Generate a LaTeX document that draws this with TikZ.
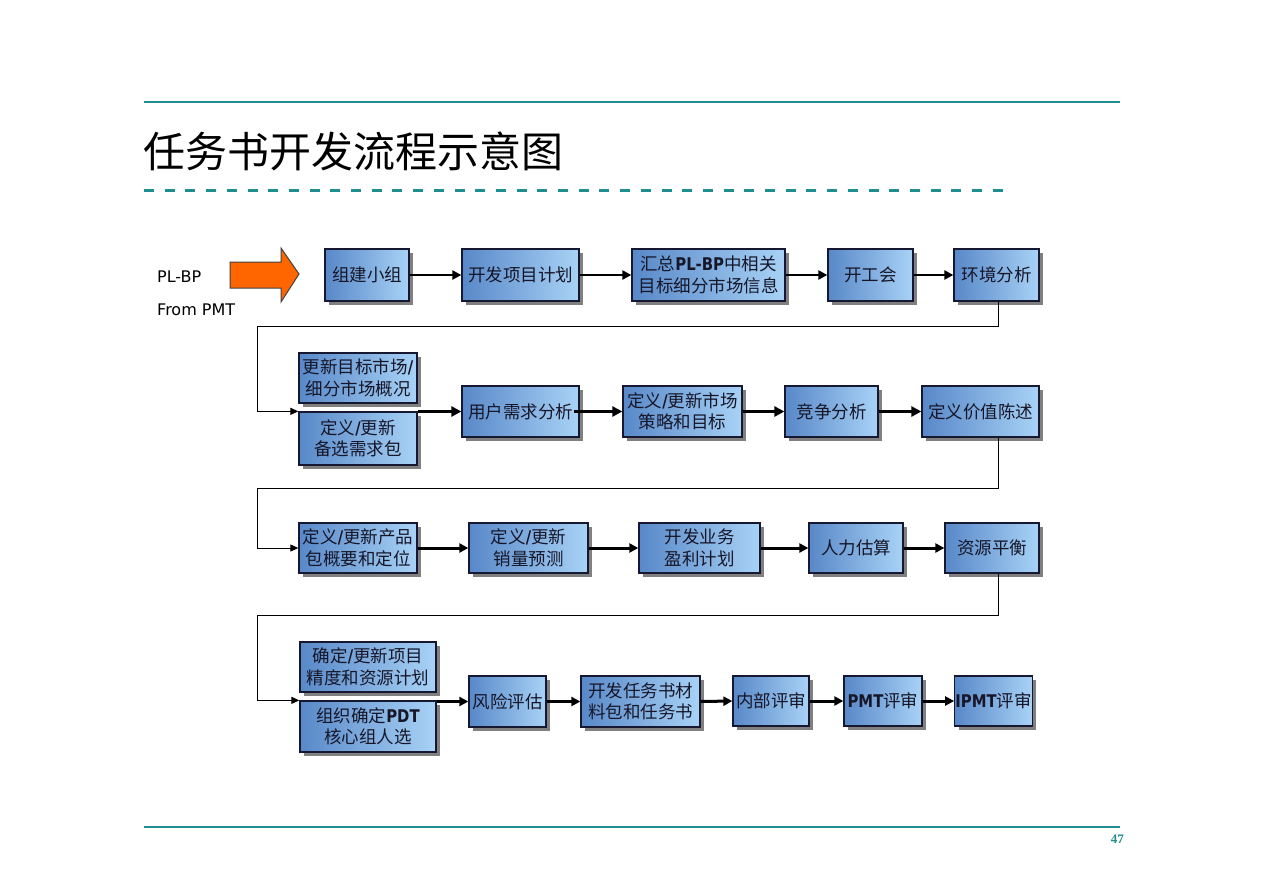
\documentclass[tikz,border=0pt]{standalone}
\usepackage{fontspec}
\setmainfont{Noto Sans CJK SC}
\newfontfamily\lat{DejaVu Sans}
\newfontfamily\latc[FakeStretch=0.85]{DejaVu Sans}
\newfontfamily\numfont{Liberation Serif}
\usetikzlibrary{arrows.meta,shadows}
\definecolor{teal1}{RGB}{32,142,142}
\definecolor{boxL}{RGB}{88,136,200}
\definecolor{boxR}{RGB}{168,210,246}
\definecolor{boxline}{RGB}{22,24,50}
\definecolor{boxtext}{RGB}{22,22,40}
\definecolor{orng}{RGB}{255,102,0}
\tikzset{
  box/.style={draw=boxline, line width=1.3pt, left color=boxL, right color=boxR,
    align=center, text=boxtext, inner sep=0.5pt,
    font=\fontsize{17.5}{21.5}\selectfont,
    drop shadow={shadow xshift=4pt, shadow yshift=-4pt, fill=black!50, opacity=1}},
  arrA/.style={line width=2.5pt, -{Triangle[length=9pt,width=9pt]}},
  arrB/.style={line width=3.6pt, -{Triangle[length=10pt,width=10pt]}},
  arrC/.style={line width=3pt, -{Triangle[length=9pt,width=9pt]}},
  conn/.style={line width=1pt, -{Triangle[length=8pt,width=7pt]}},
  lbl/.style={font=\lat\fontsize{16}{19}\selectfont, anchor=west, inner sep=0pt}
}
\newcommand\bx[6]{\node[box,minimum width={#4pt-#2pt},minimum height={#5pt-#3pt}] (#1) at ({(#2+#4)/2},{(#3+#5)/2}) {#6};}
\newcommand\slh{{\latc\bfseries /}}
\newcommand\lb[1]{{\latc\bfseries #1}}
\begin{document}
\begin{tikzpicture}[x=1pt,y=-1pt]
\useasboundingbox (0,0) rectangle (1263,892);
% header / footer
\draw[teal1, line width=1.2pt] (144,102) -- (1120,102);
\draw[teal1, line width=3pt, dash pattern=on 10pt off 10.7pt] (144,190) -- (1012,190);
\draw[teal1, line width=1.2pt] (144,827) -- (1120,827);
\node[anchor=base west, inner sep=0pt, font=\fontsize{42}{48}\selectfont] (title) at (143,167) {任务书开发流程示意图};
\node[anchor=east, inner sep=0pt, text=teal1, font=\numfont\bfseries\fontsize{13}{15}\selectfont] (pg) at (1124,839) {47};
% input
\node[lbl] (plbp) at (157,277) {PL-BP};
\node[lbl] (fpmt) at (157,310) {From PMT};
\draw[fill=orng, draw=black!75, line width=1pt] (230,262) -- (281,262) -- (281,248) -- (299,274) -- (281,302) -- (281,288) -- (230,288) -- cycle;
% row 1
\bx{a1}{325}{249}{409}{301}{组建小组}
\bx{a2}{462}{249}{579}{301}{开发项目计划}
\bx{a3}{632}{249}{785}{301}{汇总\lb{PL-BP}中相关\\目标细分市场信息}
\bx{a4}{828}{249}{913}{301}{开工会}
\bx{a5}{954}{249}{1039}{301}{环境分析}
% row 2
\bx{b1}{299}{353}{417}{403}{更新目标市场\slh\\细分市场概况}
\bx{b2}{299}{412}{417}{465}{定义\slh 更新\\备选需求包}
\bx{b3}{462}{386}{579}{437}{用户需求分析}
\bx{b4}{623}{386}{742}{437}{定义\slh 更新市场\\策略和目标}
\bx{b5}{785}{386}{878}{437}{竞争分析}
\bx{b6}{922}{386}{1039}{437}{定义价值陈述}
% row 3
\bx{c1}{299}{523}{417}{573}{定义\slh 更新产品\\包概要和定位}
\bx{c2}{469}{523}{588}{573}{定义\slh 更新\\销量预测}
\bx{c3}{639}{523}{760}{573}{开发业务\\盈利计划}
\bx{c4}{809}{523}{903}{573}{人力估算}
\bx{c5}{945}{523}{1039}{573}{资源平衡}
% row 4
\bx{d1}{300}{642}{436}{692}{确定\slh 更新项目\\精度和资源计划}
\bx{d2}{300}{701}{436}{752}{组织确定\lb{PDT}\\核心组人选}
\bx{d3}{469}{676}{546}{727}{风险评估}
\bx{d4}{581}{676}{700}{727}{开发任务书材\\料包和任务书}
\bx{d5}{733}{676}{809}{726}{内部评审}
\bx{d6}{844}{676}{922}{726}{\lb{PMT}评审}
\bx{d7}{955}{676}{1032}{726}{\lb{IPMT}评审}
% arrows row 1
\draw[arrA] (a1.east) -- (a2.west);
\draw[arrA] (a2.east) -- (a3.west);
\draw[arrA] (a3.east) -- (a4.west);
\draw[arrA] (a4.east) -- (a5.west);
% arrows row 2
\draw[arrB] (b3.west -| b2.east) -- (b3.west);
\draw[arrB] ([xshift=-6pt]b3.east) -- (b4.west);
\draw[arrB] (b4.east) -- (b5.west);
\draw[arrB] (b5.east) -- (b6.west);
% arrows row 3
\draw[arrC] (c1.east) -- (c2.west);
\draw[arrC] (c2.east) -- (c3.west);
\draw[arrC] (c3.east) -- (c4.west);
\draw[arrC] (c4.east) -- (c5.west);
% arrows row 4
\draw[arrC] (d3.west -| d2.east) -- (d3.west);
\draw[arrC] (d3.east) -- (d4.west);
\draw[arrC] (d4.east) -- (d5.west);
\draw[arrC] (d5.east) -- (d6.west);
\draw[arrC] (d6.east) -- (d7.west);
% loop connectors
\coordinate (t1) at (998,326); \coordinate (t1l) at (257,326);
\coordinate (t2) at (998,488); \coordinate (t2l) at (257,488);
\coordinate (t3) at (998,615); \coordinate (t3l) at (257,615);
\draw[conn] (a5.south -| t1) -- (t1) -- (t1l) |- (b2.north west);
\draw[conn] (b6.south -| t2) -- (t2) -- (t2l) |- (c1.west);
\draw[conn] (c5.south -| t3) -- (t3) -- (t3l) |- (d2.north west);
\end{tikzpicture}
\end{document}
